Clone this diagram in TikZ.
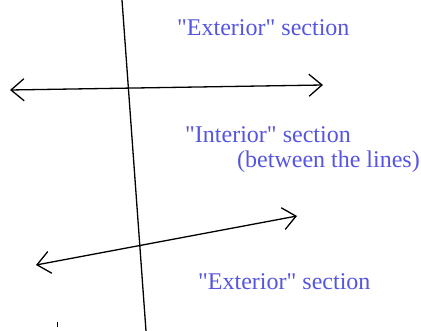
\documentclass[tikz,border=0pt]{standalone}
\usepackage{fontspec}
\setmainfont{Liberation Serif}[Ligatures=TeXOff]
\usetikzlibrary{arrows.meta}
\definecolor{lblblue}{RGB}{85,85,225}
\tikzset{
  pen/.style={draw=black, line width=1.3pt},
  barbs/.style={pen, {Straight Barb[length=13pt,width=22pt,line width=1.3pt]}-{Straight Barb[length=13pt,width=22pt,line width=1.3pt]}},
  lbl/.style={text=lblblue, font=\fontsize{24}{28}\selectfont, anchor=base west, inner sep=0pt}
}
\begin{document}
\begin{tikzpicture}[x=1pt,y=-1pt]
\useasboundingbox (0,0) rectangle (421,331);
% transversal
\coordinate (t1) at (122,0);
\coordinate (t2) at (146,331);
\draw[pen] (t1) -- (t2);
% upper line
\coordinate (a1) at (10,90);
\coordinate (a2) at (323,85);
\draw[barbs] (a1) -- (a2);
% lower line
\coordinate (b1) at (36,265);
\coordinate (b2) at (297,216);
\draw[barbs] (b1) -- (b2);
% small stray mark
\coordinate (m1) at (57,322.5);
\coordinate (m2) at (57,327);
\draw[line width=1pt] (m1) -- (m2);
% labels
\node[lbl] (ext1) at (177,36) {"Exterior" section};
\node[lbl] (int1) at (185,143) {"Interior" section};
\node[lbl] (int2) at (237,168) {(between the lines)};
\node[lbl] (ext2) at (198,290) {"Exterior" section};
\end{tikzpicture}
\end{document}
